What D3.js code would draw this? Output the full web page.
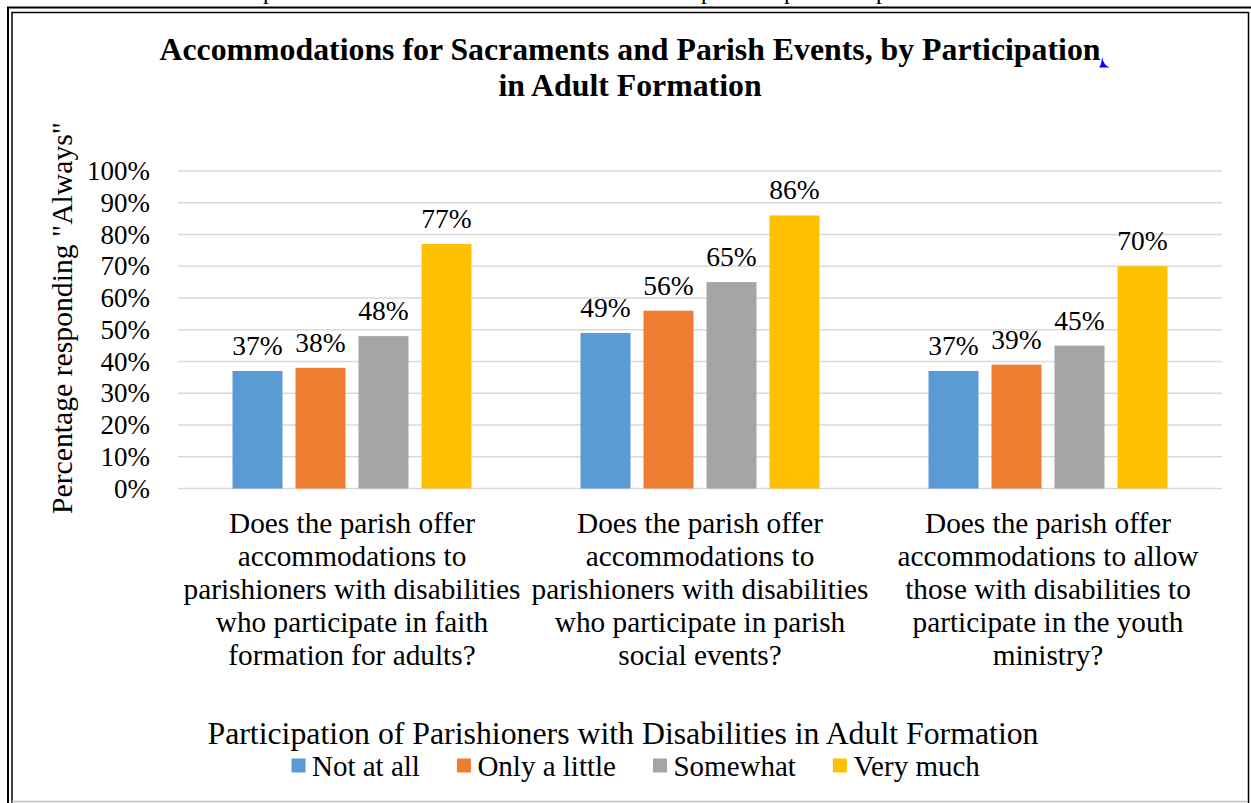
<!DOCTYPE html>
<html>
<head>
<meta charset="utf-8">
<title>Accommodations for Sacraments and Parish Events</title>
<script src="https://cdn.jsdelivr.net/npm/d3@7"></script>
<style>
  body { margin: 0; background: #fff; }
  svg { display: block; font-family: "Liberation Serif", "Times New Roman", serif; }
</style>
</head>
<body>
<div id="chart"></div>
<script>
// data
var categories = [
  ["Does the parish offer", "accommodations to", "parishioners with disabilities", "who participate in faith", "formation for adults?"],
  ["Does the parish offer", "accommodations to", "parishioners with disabilities", "who participate in parish", "social events?"],
  ["Does the parish offer", "accommodations to allow", "those with disabilities to", "participate in the youth", "ministry?"]
];
var seriesNames = ["Not at all", "Only a little", "Somewhat", "Very much"];
var notAtAll = [37, 49, 37];
var onlyALittle = [38, 56, 39];
var somewhat = [48, 65, 45];
var veryMuch = [77, 86, 70];
var yTicks = [0, 10, 20, 30, 40, 50, 60, 70, 80, 90, 100];
var colors = ["#5B9BD5", "#ED7D31", "#A5A5A5", "#FFC000"];

var seriesValues = [notAtAll, onlyALittle, somewhat, veryMuch];

var W = 1251, H = 803;
var svg = d3.select("#chart").append("svg").attr("width", W).attr("height", H);

// page frame (double border)
svg.append("line").attr("x1", 7).attr("x2", W).attr("y1", 7.5).attr("y2", 7.5)
  .attr("stroke", "#000").attr("stroke-width", 2);
svg.append("line").attr("x1", 8).attr("x2", 8).attr("y1", 7).attr("y2", H)
  .attr("stroke", "#000").attr("stroke-width", 2);
svg.append("path").attr("d", "M12,803V12.5H1248.5V803")
  .attr("fill", "none").attr("stroke", "#000").attr("stroke-width", 1.5);
svg.append("line").attr("x1", 12).attr("x2", 1248).attr("y1", 801.5).attr("y2", 801.5)
  .attr("stroke", "#bfbfbf").attr("stroke-width", 1.5);

// bits of text cut off above the frame
[263, 701, 784, 876].forEach(function(x) {
  svg.append("text").attr("x", x).attr("y", -1).attr("font-size", 24).text("p");
});

// scales
var x0 = d3.scaleBand().domain(d3.range(categories.length)).range([178, 1222]);
var x1 = d3.scaleBand().domain(seriesNames).range([-126, 126])
  .paddingInner(13 / 63).paddingOuter(6.5 / 63);
var y = d3.scaleLinear().domain([0, 100]).range([488.5, 171]);

// gridlines
svg.append("g").selectAll("line").data(yTicks).join("line")
  .attr("x1", 178).attr("x2", 1222)
  .attr("y1", function(d) { return y(d); }).attr("y2", function(d) { return y(d); })
  .attr("stroke", "#d9d9d9").attr("stroke-width", 1.5);

// y tick labels
svg.append("g").selectAll("text").data(yTicks).join("text")
  .attr("x", 150).attr("y", function(d) { return y(d) + 9; })
  .attr("text-anchor", "end").attr("font-size", 27)
  .text(function(d) { return d + "%"; });

// y axis title
svg.append("text")
  .attr("transform", "translate(72,318) rotate(-90)")
  .attr("text-anchor", "middle").attr("font-size", 29.7)
  .text("Percentage responding \"Always\"");

// bars
var groups = svg.append("g").selectAll("g").data(categories).join("g")
  .attr("transform", function(d, i) { return "translate(" + (x0(i) + x0.bandwidth() / 2) + ",0)"; });

groups.selectAll("rect").data(function(d, i) {
    return seriesNames.map(function(s, j) { return { s: s, j: j, v: seriesValues[j][i] }; });
  }).join("rect")
  .attr("x", function(d) { return x1(d.s); })
  .attr("width", x1.bandwidth())
  .attr("y", function(d) { return y(d.v); })
  .attr("height", function(d) { return y(0) - y(d.v); })
  .attr("fill", function(d) { return colors[d.j]; });

groups.selectAll("text.val").data(function(d, i) {
    return seriesNames.map(function(s, j) { return { s: s, j: j, v: seriesValues[j][i] }; });
  }).join("text")
  .attr("class", "val")
  .attr("x", function(d) { return x1(d.s) + x1.bandwidth() / 2; })
  .attr("y", function(d) { return y(d.v) - 16; })
  .attr("text-anchor", "middle").attr("font-size", 27.5)
  .text(function(d) { return d.v + "%"; });

// category labels
groups.append("text")
  .attr("text-anchor", "middle").attr("font-size", 29.3)
  .selectAll("tspan").data(function(d) { return d; }).join("tspan")
  .attr("x", 0)
  .attr("y", function(d, k) { return 533 + k * 33; })
  .text(function(d) { return d; });

// title
var title = svg.append("text").attr("text-anchor", "middle")
  .attr("font-size", 31.8).attr("font-weight", "bold");
title.append("tspan").attr("x", 630).attr("y", 60)
  .text("Accommodations for Sacraments and Parish Events, by Participation");
title.append("tspan").attr("x", 630).attr("y", 96).text("in Adult Formation");

// small blue anchor mark
svg.append("path")
  .attr("d", "M1102,57 Q1103.5,65 1109.5,67.5 L1099,67.5 Q1101.5,65 1102,57Z")
  .attr("fill", "#0000ff");

// legend
svg.append("text").attr("x", 623).attr("y", 744)
  .attr("text-anchor", "middle").attr("font-size", 31.8)
  .text("Participation of Parishioners with Disabilities in Adult Formation");

var legend = svg.append("g");
var items = legend.selectAll("g").data(seriesNames).join("g");
items.append("rect").attr("width", 14).attr("height", 14).attr("y", 758.5)
  .attr("fill", function(d, j) { return colors[j]; });
items.append("text").attr("x", 20.5).attr("y", 776).attr("font-size", 29)
  .text(function(d) { return d; });
var pos = 291.5;
items.each(function() {
  var g = d3.select(this);
  g.attr("transform", "translate(" + pos + ",0)");
  pos += 20.5 + g.select("text").node().getComputedTextLength() + 37;
});
</script>
</body>
</html>
